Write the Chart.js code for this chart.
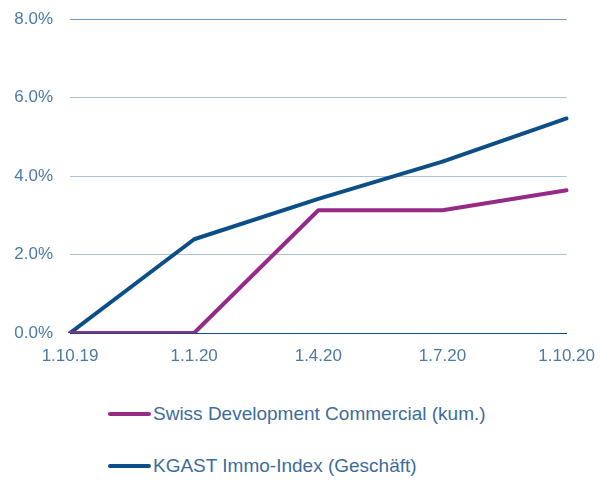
<!DOCTYPE html>
<html>
<head>
<meta charset="utf-8">
<script src="https://cdn.jsdelivr.net/npm/chart.js@4"></script>
<style>
  html, body { margin: 0; padding: 0; background: #fff; }
  #wrap { position: relative; width: 600px; height: 480px; overflow: hidden; }
  #c { position: absolute; left: 0; top: -8px; }
  #legend { position: absolute; left: 108px; top: 399px; font-family: "Liberation Sans", Arial, sans-serif; font-size: 19px; color: #3d6c9b; }
  .item { display: flex; align-items: center; height: 30px; margin-bottom: 22px; }
  .sw { width: 43px; height: 4px; border-radius: 2px; margin-right: 2px; }
</style>
</head>
<body>
<div id="wrap">
  <canvas id="c" width="600" height="384"></canvas>
  <div id="legend"></div>
</div>
<script>
const categories = ["1.10.19", "1.1.20", "1.4.20", "1.7.20", "1.10.20"];
const seriesNames = ["Swiss Development Commercial (kum.)", "KGAST Immo-Index (Geschäft)"];
const swissDev = [0, 0, 3.13, 3.13, 3.64];
const kgast = [0, 2.39, 3.42, 4.37, 5.47];
const yTicks = [0, 2, 4, 6, 8];
const colors = ["#952a87", "#0b4f86"];

const textColor = "#4a7aa6";
const ctx = document.getElementById("c").getContext("2d");
const chart = new Chart(ctx, {
  type: "line",
  data: {
    labels: categories,
    datasets: [
      { label: seriesNames[0], data: swissDev, borderColor: colors[0], backgroundColor: colors[0], borderWidth: 4, pointRadius: 0, tension: 0, borderCapStyle: "round", borderJoinStyle: "round" },
      { label: seriesNames[1], data: kgast, borderColor: colors[1], backgroundColor: colors[1], borderWidth: 4, pointRadius: 0, tension: 0, borderCapStyle: "round", borderJoinStyle: "round" }
    ]
  },
  options: {
    responsive: false,
    animation: false,
    layout: { padding: { left: 0, right: 32, top: 14, bottom: 0 } },
    plugins: { legend: { display: false }, tooltip: { enabled: false } },
    scales: {
      x: {
        offset: false,
        grid: { display: false },
        border: { display: true, color: "#0b4f86", width: 1 },
        ticks: { color: textColor, font: { family: "Liberation Sans", size: 17 }, padding: 5, maxRotation: 0 },
        afterFit: (s) => { s.height = 43; }
      },
      y: {
        min: 0, max: 8,
        afterBuildTicks: (s) => { s.ticks = yTicks.map(v => ({ value: v })); },
        grid: {
          color: (c) => c.tick && c.tick.value === 8 ? "#6b98c0" : (c.tick && c.tick.value === 0 ? "#0b4f86" : "#a8c3da"),
          drawTicks: false,
          lineWidth: 1
        },
        border: { display: false },
        ticks: { color: textColor, font: { family: "Liberation Sans", size: 17 }, padding: 17, callback: (v) => v.toFixed(1) + "%" },
        afterFit: (s) => { s.width = 70; }
      }
    }
  }
});

const leg = document.getElementById("legend");
chart.data.datasets.forEach(ds => {
  const it = document.createElement("div");
  it.className = "item";
  const sw = document.createElement("span");
  sw.className = "sw";
  sw.style.background = ds.borderColor;
  const tx = document.createElement("span");
  tx.textContent = ds.label;
  it.appendChild(sw); it.appendChild(tx);
  leg.appendChild(it);
});
</script>
</body>
</html>
